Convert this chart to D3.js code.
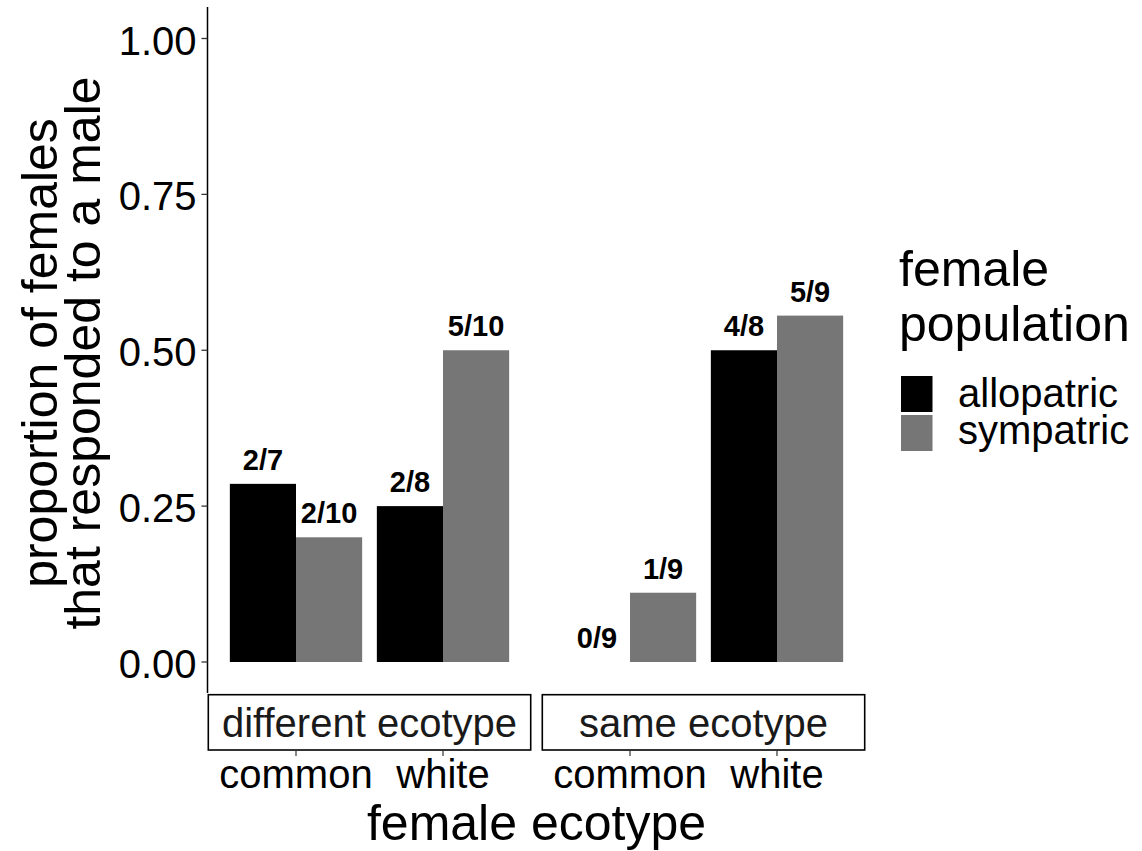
<!DOCTYPE html>
<html lang="en">
<head>
<meta charset="utf-8">
<title>Female response by ecotype</title>
<script src="https://d3js.org/d3.v7.min.js"></script>
<style>
  body { margin: 0; background: #fff; }
  svg { display: block; background: #fff; }
  text { font-family: Helvetica, "Liberation Sans", Arial, sans-serif; }
  .barLabel { font-weight: bold; }
</style>
</head>
<body>
<svg id="chart" width="1142" height="851"></svg>
<script>
// data
var facets = ["different ecotype", "same ecotype"]
var ecotypes = ["common", "white"]
var populations = ["allopatric", "sympatric"]
// responded / tested, per facet -> ecotype -> population
var responded = [[2, 2, 2, 5], [0, 1, 4, 5]]
var tested = [[7, 10, 8, 10], [9, 9, 8, 9]]
var yTicks = [0, 0.25, 0.5, 0.75, 1]
var legendTitle = ["female", "population"]

var colors = {allopatric: "#000000", sympatric: "#767676"}

var rows = []
facets.forEach(function(f, fi) {
  ecotypes.forEach(function(e, ei) {
    populations.forEach(function(p, pi) {
      var k = ei * 2 + pi
      rows.push({facet: f, ecotype: e, pop: p, n: responded[fi][k], total: tested[fi][k],
                 value: responded[fi][k] / tested[fi][k]})
    })
  })
})

var svg = d3.select("#chart")

// scales
var y = d3.scaleLinear().domain([0, 1]).range([662, 38.5])
var facetX = d3.scaleBand().domain(facets).range([207.8, 865.2]).paddingInner(0.0317)
var groupX = d3.scaleBand().domain(ecotypes).range([0, facetX.bandwidth()])
                .paddingInner(0.1).paddingOuter(0.15)
var popX = d3.scaleBand().domain(populations).range([0, groupX.bandwidth()])

function barX(d) { return facetX(d.facet) + groupX(d.ecotype) + popX(d.pop) }

// bars
svg.append("g").selectAll("rect")
  .data(rows)
  .enter().append("rect")
  .attr("x", barX)
  .attr("width", popX.bandwidth())
  .attr("y", d => y(d.value))
  .attr("height", d => y(0) - y(d.value))
  .attr("fill", d => colors[d.pop])

// bar labels
svg.append("g").selectAll("text")
  .data(rows)
  .enter().append("text")
  .attr("class", "barLabel")
  .attr("x", d => barX(d) + popX.bandwidth() / 2)
  .attr("y", d => y(d.value) - 14)
  .attr("text-anchor", "middle")
  .attr("font-size", 29)
  .attr("fill", "#000")
  .text(d => d.n + "/" + d.total)

// y axis
var axisX = facetX(facets[0]) - 0.3
svg.append("line")
  .attr("x1", axisX).attr("x2", axisX)
  .attr("y1", 7).attr("y2", 693)
  .attr("stroke", "#000").attr("stroke-width", 1.5)

var yt = svg.append("g").selectAll("g").data(yTicks).enter().append("g")
yt.append("line")
  .attr("x1", axisX - 6).attr("x2", axisX)
  .attr("y1", d => y(d)).attr("y2", d => y(d))
  .attr("stroke", "#333").attr("stroke-width", 1.3)
yt.append("text")
  .attr("x", axisX - 11)
  .attr("y", d => y(d) + 16)
  .attr("text-anchor", "end")
  .attr("font-size", 40)
  .attr("fill", "#000")
  .text(d => d3.format(".2f")(d))

// strips (at bottom)
var strips = svg.append("g").selectAll("g").data(facets).enter().append("g")
strips.append("rect")
  .attr("x", d => facetX(d) + 0.5)
  .attr("y", 694.7)
  .attr("width", facetX.bandwidth() - 1)
  .attr("height", 55.3)
  .attr("fill", "#fff")
  .attr("stroke", "#000")
  .attr("stroke-width", 1.6)
strips.append("text")
  .attr("x", d => facetX(d) + facetX.bandwidth() / 2)
  .attr("y", 737)
  .attr("text-anchor", "middle")
  .attr("font-size", 40)
  .attr("fill", "#1a1a1a")
  .text(d => d)

// x ticks and labels
var xt = svg.append("g").selectAll("g")
  .data(d3.cross(facets, ecotypes))
  .enter().append("g")
xt.append("line")
  .attr("x1", d => facetX(d[0]) + groupX(d[1]) + groupX.bandwidth() / 2)
  .attr("x2", d => facetX(d[0]) + groupX(d[1]) + groupX.bandwidth() / 2)
  .attr("y1", 751).attr("y2", 756)
  .attr("stroke", "#333").attr("stroke-width", 1.2)
xt.append("text")
  .attr("x", d => facetX(d[0]) + groupX(d[1]) + groupX.bandwidth() / 2)
  .attr("y", 788)
  .attr("text-anchor", "middle")
  .attr("font-size", 40)
  .attr("fill", "#000")
  .text(d => d[1])

// axis titles
svg.append("text")
  .attr("x", (facetX.range()[0] + facetX.range()[1]) / 2)
  .attr("y", 840)
  .attr("text-anchor", "middle")
  .attr("font-size", 50)
  .attr("fill", "#000")
  .text("female ecotype")

var yTitle = svg.append("text")
  .attr("transform", "translate(0,353) rotate(-90)")
  .attr("text-anchor", "middle")
  .attr("font-size", 50)
  .attr("fill", "#000")
yTitle.append("tspan").attr("x", 0).attr("y", 57).text("proportion of females")
yTitle.append("tspan").attr("x", 0).attr("y", 100).text("that responded to a male")

// legend
var legend = svg.append("g")
legend.selectAll("text.title")
  .data(legendTitle)
  .enter().append("text")
  .attr("class", "title")
  .attr("x", 899)
  .attr("y", (d, i) => 286 + i * 54.5)
  .attr("font-size", 50)
  .attr("fill", "#000")
  .text(d => d)

var keys = legend.selectAll("g.key").data(populations).enter().append("g").attr("class", "key")
keys.append("rect")
  .attr("x", 901)
  .attr("y", (d, i) => 376 + i * 39)
  .attr("width", 31.5)
  .attr("height", 36)
  .attr("fill", d => colors[d])
keys.append("text")
  .attr("x", 958)
  .attr("y", (d, i) => 407 + i * 36.5)
  .attr("font-size", 40)
  .attr("fill", "#000")
  .text(d => d)
</script>
</body>
</html>
